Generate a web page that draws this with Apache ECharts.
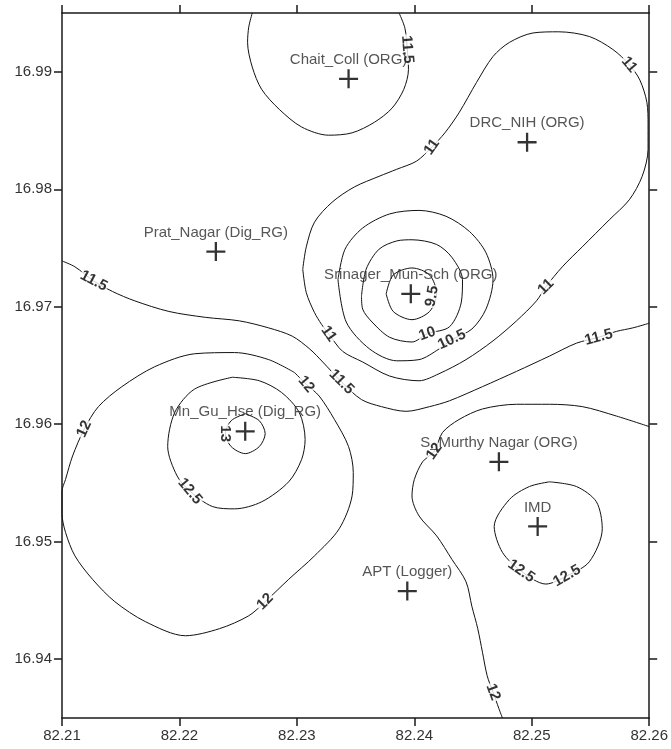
<!DOCTYPE html>
<html>
<head>
<meta charset="utf-8">
<script src="https://cdn.jsdelivr.net/npm/echarts@6/dist/echarts.min.js"></script>
<style>
html,body{margin:0;padding:0;background:#fff;}
#chart{width:671px;height:749px;}
</style>
</head>
<body>
<div id="chart"></div>
<script>
// ---- axes ----
const xTicks = [82.21, 82.22, 82.23, 82.24, 82.25, 82.26];
const yTicks = [16.94, 16.95, 16.96, 16.97, 16.98, 16.99];
const xRange = [82.21, 82.26];
const yRange = [16.935, 16.995];

// ---- stations ----
const stationNames = ['Chait_Coll (ORG)', 'DRC_NIH (ORG)', 'Prat_Nagar (Dig_RG)', 'Srinager_Mun-Sch (ORG)',
  'Mn_Gu_Hse (Dig_RG)', 'S_Murthy Nagar (ORG)', 'IMD', 'APT (Logger)'];
const stationX = [82.2344, 82.2496, 82.2231, 82.2397, 82.2256, 82.2472, 82.2505, 82.2394];
const stationY = [16.9894, 16.9840, 16.9747, 16.9711, 16.9594, 16.9568, 16.9513, 16.9458];

// ---- contour lines (level, [lon, lat] points) ----
const c115Chait = [[82.2262,16.9950],[82.2259,16.9938],[82.2258,16.9925],[82.2262,16.9904],[82.2270,16.9885],[82.2285,16.9868],[82.2304,16.9853],[82.2327,16.9846],[82.2347,16.9848],[82.2366,16.9857],[82.2381,16.9869],[82.2391,16.9885],[82.2395,16.9902],[82.2394,16.9919],[82.2392,16.9937],[82.2387,16.9950]];
const c11Main = [[82.2305,16.9732],[82.2308,16.9712],[82.2315,16.9695],[82.2321,16.9685],[82.2327,16.9677],[82.2339,16.9662],[82.2356,16.9653],[82.2379,16.9641],[82.2404,16.9637],[82.2421,16.9643],[82.2444,16.9655],[82.2467,16.9671],[82.2487,16.9688],[82.2504,16.9705],[82.2512,16.9717],[82.2526,16.9734],[82.2543,16.9751],[82.2566,16.9774],[82.2583,16.9791],[82.2594,16.9811],[82.2599,16.9834],[82.2599,16.9855],[82.2598,16.9874],[82.2592,16.9893],[82.2583,16.9906],[82.2569,16.9919],[82.2549,16.9930],[82.2523,16.9934],[82.2501,16.9933],[82.2481,16.9925],[82.2467,16.9913],[82.2453,16.9891],[82.2438,16.9865],[82.2426,16.9848],[82.2415,16.9836],[82.2402,16.9824],[82.2385,16.9817],[82.2370,16.9811],[82.2349,16.9802],[82.2330,16.9789],[82.2315,16.9772],[82.2308,16.9751],[82.2305,16.9732]];
const c115Band = [[82.2100,16.9739],[82.2111,16.9734],[82.2127,16.9722],[82.2143,16.9713],[82.2162,16.9705],[82.2191,16.9696],[82.2222,16.9691],[82.2251,16.9688],[82.2276,16.9682],[82.2296,16.9675],[82.2311,16.9664],[82.2322,16.9653],[82.2338,16.9636],[82.2355,16.9621],[82.2372,16.9615],[82.2393,16.9611],[82.2413,16.9615],[82.2430,16.9620],[82.2458,16.9632],[82.2487,16.9645],[82.2515,16.9658],[82.2538,16.9669],[82.2557,16.9674],[82.2572,16.9679],[82.2586,16.9682],[82.2600,16.9686]];
const c105 = [[82.2335,16.9723],[82.2342,16.9687],[82.2362,16.9664],[82.2385,16.9654],[82.2404,16.9655],[82.2421,16.9664],[82.2432,16.9672],[82.2449,16.9681],[82.2461,16.9698],[82.2467,16.9723],[82.2461,16.9746],[82.2447,16.9764],[82.2427,16.9777],[82.2404,16.9782],[82.2379,16.9779],[82.2356,16.9767],[82.2341,16.9749],[82.2335,16.9723]];
const c10 = [[82.2355,16.9709],[82.2359,16.9732],[82.2370,16.9749],[82.2385,16.9756],[82.2398,16.9757],[82.2419,16.9753],[82.2432,16.9742],[82.2441,16.9723],[82.2440,16.9704],[82.2430,16.9683],[82.2411,16.9677],[82.2398,16.9670],[82.2379,16.9674],[82.2364,16.9687],[82.2356,16.9698],[82.2355,16.9709]];
const c95 = [[82.2376,16.9711],[82.2382,16.9727],[82.2398,16.9733],[82.2413,16.9727],[82.2419,16.9711],[82.2413,16.9696],[82.2398,16.9689],[82.2382,16.9696],[82.2376,16.9711]];
const c12West = [[82.2298,16.9644],[82.2276,16.9655],[82.2247,16.9661],[82.2213,16.9660],[82.2179,16.9649],[82.2151,16.9632],[82.2131,16.9615],[82.2119,16.9596],[82.2109,16.9573],[82.2103,16.9553],[82.2100,16.9543],[82.2100,16.9524],[82.2103,16.9508],[82.2111,16.9488],[82.2126,16.9468],[82.2145,16.9449],[82.2171,16.9432],[82.2205,16.9420],[82.2234,16.9426],[82.2259,16.9437],[82.2273,16.9449],[82.2293,16.9468],[82.2315,16.9488],[82.2336,16.9511],[82.2347,16.9539],[82.2348,16.9559],[82.2344,16.9581],[82.2332,16.9604],[82.2319,16.9624],[82.2308,16.9634],[82.2298,16.9644]];
const c125West = [[82.2245,16.9640],[82.2213,16.9630],[82.2196,16.9610],[82.2190,16.9581],[82.2198,16.9556],[82.2209,16.9543],[82.2228,16.9530],[82.2247,16.9528],[82.2270,16.9534],[82.2293,16.9551],[82.2304,16.9570],[82.2307,16.9587],[82.2302,16.9610],[82.2287,16.9627],[82.2268,16.9637],[82.2245,16.9640]];
const c13 = [[82.2256,16.9609],[82.2268,16.9603],[82.2273,16.9592],[82.2268,16.9581],[82.2256,16.9575],[82.2244,16.9581],[82.2239,16.9592],[82.2244,16.9603],[82.2256,16.9609]];
const c12East = [[82.2600,16.9598],[82.2572,16.9607],[82.2543,16.9615],[82.2515,16.9617],[82.2487,16.9617],[82.2458,16.9613],[82.2438,16.9604],[82.2424,16.9593],[82.2417,16.9577],[82.2407,16.9568],[82.2400,16.9553],[82.2398,16.9539],[82.2404,16.9522],[82.2419,16.9505],[82.2432,16.9485],[82.2444,16.9466],[82.2449,16.9445],[82.2454,16.9426],[82.2458,16.9406],[82.2462,16.9386],[82.2467,16.9372],[82.2472,16.9358],[82.2475,16.9350]];
const c125Imd = [[82.2515,16.9551],[82.2538,16.9547],[82.2555,16.9534],[82.2560,16.9511],[82.2549,16.9483],[82.2530,16.9471],[82.2512,16.9464],[82.2491,16.9475],[82.2475,16.9491],[82.2468,16.9513],[82.2481,16.9536],[82.2498,16.9547],[82.2515,16.9551]];

// ---- contour labels ----
const labelText = ['11.5','11','11','11','11','11.5','11.5','11.5','10.5','10','9.5','12','12','12','12.5','13','12','12','12.5','12.5'];
const labelX = [82.2394,82.2415,82.2583,82.2512,82.2327,82.2127,82.2338,82.2557,82.2432,82.2411,82.2415,82.2308,82.2119,82.2273,82.2209,82.2239,82.2417,82.2467,82.2491,82.2530];
const labelY = [16.9919,16.9836,16.9906,16.9717,16.9677,16.9722,16.9636,16.9674,16.9672,16.9677,16.9709,16.9634,16.9596,16.9449,16.9543,16.9592,16.9577,16.9372,16.9475,16.9471];
// orientation of each label along its line (degrees, style)
const labelAngle = [-85,55,-50,45,-55,-28,-45,15,25,20,80,-50,65,45,-50,-90,55,-70,-35,30];

const contours = [c115Chait, c11Main, c115Band, c105, c10, c95, c12West, c125West, c13, c12East, c125Imd];

const FONT = '"Liberation Sans", Arial, sans-serif';
const chart = echarts.init(document.getElementById('chart'), null, {renderer: 'canvas'});

const frameLine = {show: true, lineStyle: {color: '#1a1a1a', width: 1.5}};
const frameTick = {show: true, inside: false, length: 8, lineStyle: {color: '#1a1a1a', width: 1.5}};

const series = contours.map(pts => ({
  type: 'line', data: pts, symbol: 'none', smooth: 0.3, silent: true, z: 2,
  lineStyle: {color: '#111', width: 1}, animation: false
}));

series.push({
  type: 'scatter', z: 5, silent: true, symbolSize: 0,
  data: labelText.map((t, i) => ({
    value: [labelX[i], labelY[i]],
    label: {show: true, position: 'inside', formatter: t, rotate: labelAngle[i]}
  })),
  label: {
    show: true, color: '#000', fontFamily: FONT, fontWeight: 'bold', fontSize: 15,
    backgroundColor: '#fff', padding: [0, 1]
  },
  animation: false
});

series.push({
  type: 'scatter', z: 6, silent: true,
  symbol: 'path://M8.8,0H11.2V8.8H20V11.2H11.2V20H8.8V11.2H0V8.8H8.8Z', symbolSize: 19,
  itemStyle: {color: '#000'},
  data: stationNames.map((n, i) => ({name: n, value: [stationX[i], stationY[i]]})),
  label: {
    show: true, position: 'top', distance: 2, formatter: p => p.name,
    color: '#2b2b2b', fontFamily: FONT, fontSize: 15
  },
  animation: false
});

chart.setOption({
  animation: false,
  backgroundColor: '#fff',
  grid: {left: 62, right: 21, top: 13, bottom: 31, containLabel: false},
  xAxis: [
    {type: 'value', position: 'bottom', min: xRange[0], max: xRange[1], interval: 0.01,
     axisLine: frameLine, axisTick: frameTick, splitLine: {show: false},
     axisLabel: {show: true, margin: 10, color: '#333', fontFamily: FONT, fontSize: 15,
       formatter: v => v.toFixed(2)}},
    {type: 'value', position: 'top', min: xRange[0], max: xRange[1], interval: 0.01,
     axisLine: frameLine, axisTick: frameTick, splitLine: {show: false},
     axisLabel: {show: false}}
  ],
  yAxis: [
    {type: 'value', position: 'left', min: yRange[0], max: yRange[1],
     axisLine: frameLine, splitLine: {show: false},
     axisTick: Object.assign({}, frameTick, {customValues: yTicks}),
     axisLabel: {show: true, margin: 10, color: '#333', fontFamily: FONT, fontSize: 15,
       customValues: yTicks, formatter: v => v.toFixed(2)}},
    {type: 'value', position: 'right', min: yRange[0], max: yRange[1],
     axisLine: frameLine, splitLine: {show: false},
     axisTick: Object.assign({}, frameTick, {customValues: yTicks}),
     axisLabel: {show: false}}
  ],
  series: series
});
</script>
</body>
</html>
